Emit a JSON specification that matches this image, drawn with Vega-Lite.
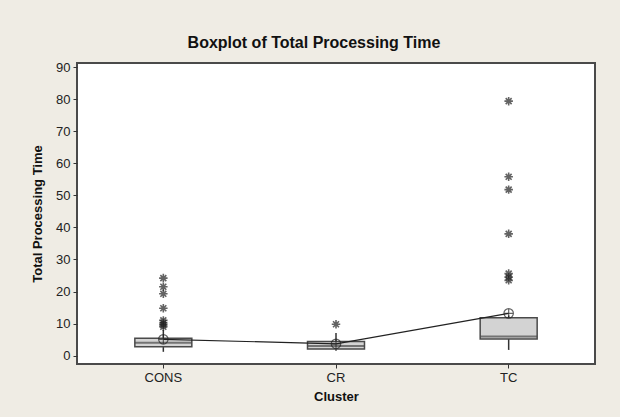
{
  "$schema": "https://vega.github.io/schema/vega-lite/v6.json",
  "autosize": {"type": "none"},
  "width": 518,
  "height": 301,
  "padding": {"left": 77, "top": 63, "right": 25, "bottom": 53},
  "background": "#efece4",
  "title": {
    "text": "Boxplot of Total Processing Time",
    "font": "Liberation Sans",
    "fontSize": 16,
    "fontWeight": "bold",
    "color": "#111",
    "anchor": "middle",
    "dx": -22,
    "offset": 10
  },
  "config": {
    "view": {"stroke": "#4a4a4a", "strokeWidth": 2, "fill": "white"},
    "axis": {
      "labelFont": "Liberation Sans",
      "titleFont": "Liberation Sans",
      "labelFontSize": 13,
      "titleFontSize": 13,
      "titleFontWeight": "bold",
      "labelColor": "#222",
      "titleColor": "#111",
      "tickColor": "#333",
      "domain": false,
      "grid": false,
      "tickSize": 4,
      "labelOverlap": false
    }
  },
  "datasets": {
    "summary": [
      {"Cluster": "CONS", "lower": 1.2, "q1": 2.8, "median": 4, "q3": 5.4, "upper": 8, "mean": 5.1},
      {"Cluster": "CR", "lower": 1.5, "q1": 2.1, "median": 3, "q3": 4.4, "upper": 7.1, "mean": 3.7},
      {"Cluster": "TC", "lower": 1.8, "q1": 5.2, "median": 6, "q3": 11.8, "upper": 12.5, "mean": 13.2}
    ],
    "outliers": [
      {"Cluster": "CONS", "value": 9},
      {"Cluster": "CONS", "value": 9.6},
      {"Cluster": "CONS", "value": 10.2},
      {"Cluster": "CONS", "value": 11},
      {"Cluster": "CONS", "value": 14.8},
      {"Cluster": "CONS", "value": 19.3},
      {"Cluster": "CONS", "value": 21.5},
      {"Cluster": "CONS", "value": 24.2},
      {"Cluster": "CR", "value": 9.8},
      {"Cluster": "TC", "value": 23.5},
      {"Cluster": "TC", "value": 24.5},
      {"Cluster": "TC", "value": 25.6},
      {"Cluster": "TC", "value": 38},
      {"Cluster": "TC", "value": 51.8},
      {"Cluster": "TC", "value": 55.8},
      {"Cluster": "TC", "value": 79.4}
    ]
  },
  "encoding": {
    "x": {
      "field": "Cluster",
      "type": "nominal",
      "sort": ["CONS", "CR", "TC"],
      "scale": {"paddingInner": 0, "paddingOuter": 0},
      "axis": {"labelAngle": 0, "title": "Cluster", "labelPadding": 3, "titlePadding": 6}
    }
  },
  "layer": [
    {
      "data": {"name": "summary"},
      "mark": {"type": "rule", "color": "#333", "strokeWidth": 1.5},
      "encoding": {
        "y": {"field": "lower", "type": "quantitative", "scale": {"domain": [-2.6, 91.3], "nice": false, "zero": false},
          "axis": {"values": [0, 10, 20, 30, 40, 50, 60, 70, 80, 90], "tickCount": 10, "title": "Total Processing Time", "labelPadding": 3, "titlePadding": 11}},
        "y2": {"field": "upper"}
      }
    },
    {
      "data": {"name": "summary"},
      "mark": {"type": "bar", "fill": "#d3d3d3", "stroke": "#4a4a4a", "strokeWidth": 1.5, "width": {"band": 0.33}},
      "encoding": {
        "y": {"field": "q1", "type": "quantitative", "axis": {"values": [0, 10, 20, 30, 40, 50, 60, 70, 80, 90], "tickCount": 10, "title": "Total Processing Time", "labelPadding": 3, "titlePadding": 11}},
        "y2": {"field": "q3"}
      }
    },
    {
      "data": {"name": "summary"},
      "mark": {"type": "tick", "color": "#4a4a4a", "size": 57, "thickness": 2},
      "encoding": {
        "y": {"field": "median", "type": "quantitative"}
      }
    },
    {
      "data": {"name": "summary"},
      "mark": {"type": "line", "color": "#222", "strokeWidth": 1.2},
      "encoding": {
        "y": {"field": "mean", "type": "quantitative"}
      }
    },
    {
      "data": {"name": "summary"},
      "mark": {"type": "point", "shape": "M-1,0A1,1,0,1,1,1,0A1,1,0,1,1,-1,0ZM-1,0L1,0M0,-1L0,1", "filled": false, "stroke": "#222", "strokeWidth": 1.2, "size": 90},
      "encoding": {
        "y": {"field": "mean", "type": "quantitative"}
      }
    },
    {
      "data": {"name": "outliers"},
      "mark": {"type": "point", "shape": "M0,-1L0,1M-1,0L1,0M-0.7,-0.7L0.7,0.7M-0.7,0.7L0.7,-0.7", "filled": false, "stroke": "#222", "strokeWidth": 1.6, "size": 72},
      "encoding": {
        "y": {"field": "value", "type": "quantitative"}
      }
    }
  ]
}
